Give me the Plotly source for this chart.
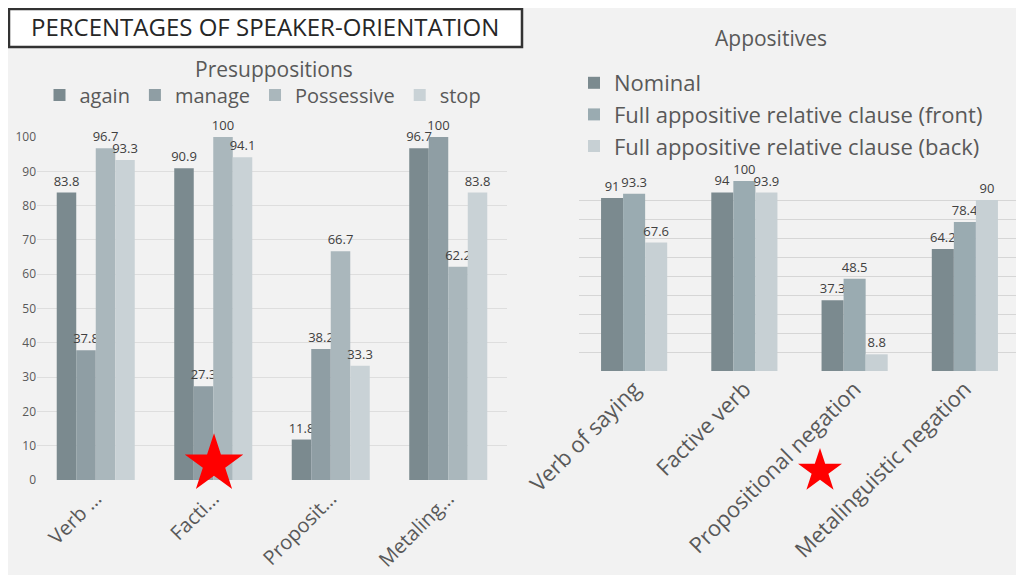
import plotly.graph_objects as go

# ---- data ----
presup_cats = ["Verb …", "Facti…", "Proposit…", "Metaling…"]
presup_names = ["again", "manage", "Possessive", "stop"]
again = [83.8, 90.9, 11.8, 96.7]
manage = [37.8, 27.3, 38.2, 100]
possessive = [96.7, 100, 66.7, 62.2]
stop = [93.3, 94.1, 33.3, 83.8]

appos_cats = ["Verb of saying", "Factive verb", "Propositional negation", "Metalinguistic negation"]
appos_names = ["Nominal", "Full appositive relative clause (front)", "Full appositive relative clause (back)"]
nominal = [91, 94, 37.3, 64.2]
front = [93.3, 100, 48.5, 78.4]
back = [67.6, 93.9, 8.8, 90]

left_colors = ["#7b8a8f", "#8f9ea4", "#aab7bc", "#c9d2d6"]
right_colors = ["#7b8a8f", "#9aabb1", "#c7d0d4"]

txt = "#595959"
lab = "#404040"
font = "Open Sans"

W, H = 1024, 575
OFF = 8  # page body margin


# pixel position in the picture -> paper fraction
def px(x):
    return (x - OFF) / W


def py(y):
    return 1 - (y - OFF) / H


# red stars pasted over the picture (picture pixels)
star_x = [214, 820]
star_y = [464, 471]
star_size = [44, 33]

fig = go.Figure()

# left chart: presuppositions
w1 = 0.166
for i, (name, vals) in enumerate(zip(presup_names, [again, manage, possessive, stop])):
    fig.add_trace(go.Bar(
        x=list(range(len(presup_cats))), y=vals, name=name,
        width=w1, offset=-2 * w1 + i * w1,
        marker=dict(color=left_colors[i], line=dict(width=0)),
        text=[f"{v:g}" for v in vals], textposition="outside", constraintext="none",
        textfont=dict(size=13, color=lab, family=font),
        cliponaxis=False, xaxis="x", yaxis="y", legend="legend",
    ))

# right chart: appositives
w2 = 0.2
for i, (name, vals) in enumerate(zip(appos_names, [nominal, front, back])):
    fig.add_trace(go.Bar(
        x=list(range(len(appos_cats))), y=vals, name=name,
        width=w2, offset=-1.5 * w2 + i * w2,
        marker=dict(color=right_colors[i], line=dict(width=0)),
        text=[f"{v:g}" for v in vals], textposition="outside", constraintext="none",
        textfont=dict(size=13, color=lab, family=font),
        cliponaxis=False, xaxis="x2", yaxis="y2", legend="legend2",
    ))

# stars on a full-page overlay axis
fig.add_trace(go.Scatter(x=[px(v) for v in star_x], y=[py(v) for v in star_y], mode="markers",
                         marker=dict(symbol="star", size=star_size, color="#ff0000",
                                     opacity=1, line=dict(width=0)),
                         showlegend=False, hoverinfo="skip", xaxis="x3", yaxis="y3"))

fig.update_layout(
    template="none",
    width=W, height=H,
    margin=dict(l=0, r=0, t=0, b=0, pad=0, autoexpand=False),
    paper_bgcolor="#f2f2f2", plot_bgcolor="rgba(0,0,0,0)",
    font=dict(family=font, color=txt),
    barmode="overlay",
    xaxis=dict(domain=[px(37), px(507)], range=[-0.5, 3.5], automargin=False,
               tickvals=list(range(len(presup_cats))), ticktext=presup_cats,
               tickangle=-45, tickfont=dict(size=20, color=txt), ticklabelstandoff=2,
               showgrid=False, zeroline=False, showline=False, ticks=""),
    yaxis=dict(domain=[py(480), py(137)], range=[0, 100], dtick=10, automargin=False,
               tickfont=dict(size=12, color=txt), gridcolor="#dedede", gridwidth=1,
               zeroline=False, showline=False, ticks=""),
    xaxis2=dict(domain=[px(579), px(1020)], range=[-0.5, 3.5], anchor="y2", automargin=False,
                tickvals=list(range(len(appos_cats))), ticktext=appos_cats,
                tickangle=-45, tickfont=dict(size=22, color=txt),
                showgrid=False, zeroline=False, showline=False, ticks=""),
    yaxis2=dict(domain=[py(371), py(181)], range=[0, 100], dtick=10, anchor="x2",
                automargin=False, showticklabels=False, gridcolor="#d6d6d6", gridwidth=1,
                zeroline=False, showline=False, ticks=""),
    xaxis3=dict(domain=[0, 1], range=[0, 1], anchor="y3", visible=False, fixedrange=True),
    yaxis3=dict(domain=[0, 1], range=[0, 1], anchor="x3", visible=False, fixedrange=True),
    legend=dict(orientation="h", x=px(263), xanchor="center", y=py(95), yanchor="middle",
                font=dict(size=20, color=txt), itemwidth=30, bgcolor="rgba(0,0,0,0)"),
    legend2=dict(orientation="v", x=px(574), xanchor="left", y=py(62), yanchor="top",
                 font=dict(size=22, color=txt), itemwidth=30, bgcolor="rgba(0,0,0,0)"),
    showlegend=True,
)

# title box
fig.add_shape(type="rect", xref="paper", yref="paper",
              x0=px(9), x1=px(522), y0=py(47), y1=py(9),
              line=dict(color="#333333", width=2.5), fillcolor="#ffffff", layer="above")
fig.add_annotation(text="PERCENTAGES OF SPEAKER-ORIENTATION", xref="paper", yref="paper",
                   x=px(265), y=py(27), xanchor="center", yanchor="middle", showarrow=False,
                   font=dict(size=24, color="#262626", family=font))

fig.add_annotation(text="Presuppositions", xref="paper", yref="paper",
                   x=px(274), y=py(69), xanchor="center", yanchor="middle", showarrow=False,
                   font=dict(size=21, color=txt, family=font))
fig.add_annotation(text="Appositives", xref="paper", yref="paper",
                   x=px(771), y=py(38), xanchor="center", yanchor="middle", showarrow=False,
                   font=dict(size=21, color=txt, family=font))

fig.write_html("out.html")
